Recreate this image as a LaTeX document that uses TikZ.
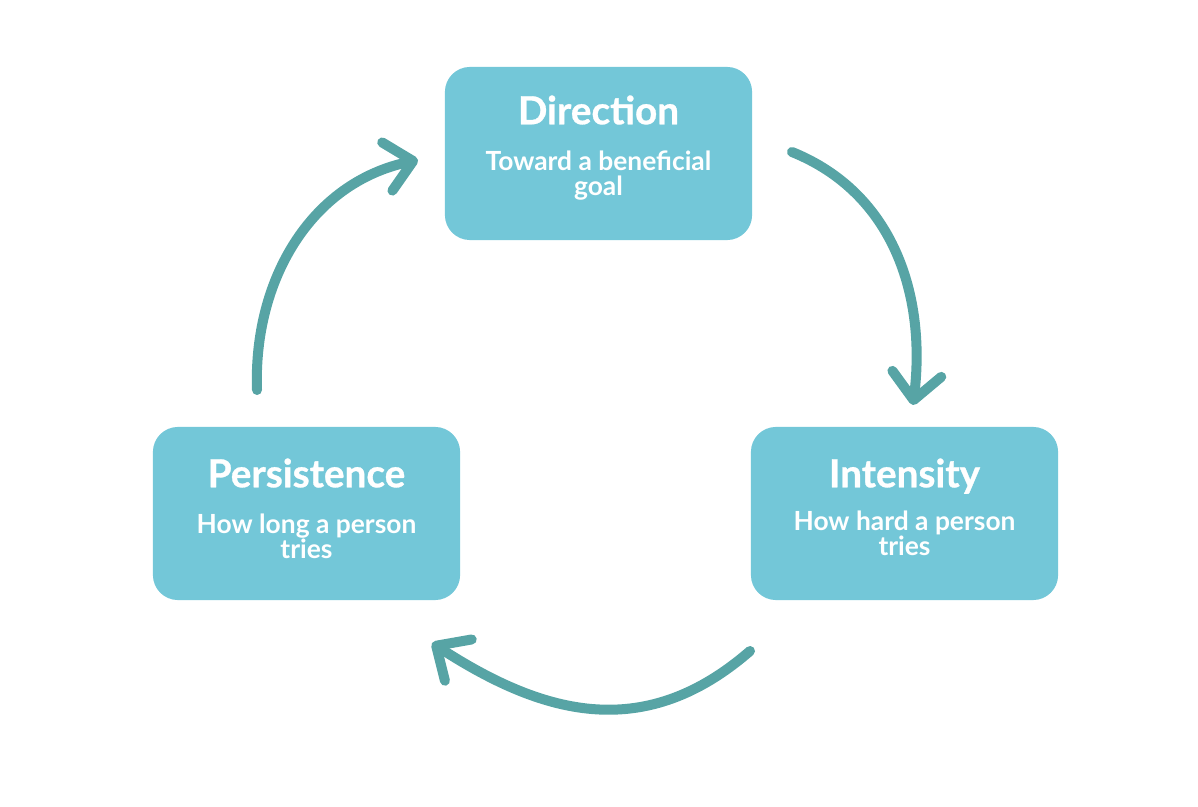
\documentclass[tikz,border=0pt]{standalone}
\usepackage{fontspec}
\setmainfont{Lato}
\newfontfamily\stagefont{Lato}[BoldFeatures={FakeBold=0.8}]
\usetikzlibrary{arrows.meta}
\definecolor{boxblue}{HTML}{73C7D8}
\definecolor{cycleteal}{HTML}{57A4A5}
\begin{document}
\begin{tikzpicture}
[x=0.01cm,y=0.01cm,
 stage/.style={fill=boxblue,rounded corners=0.25cm,minimum width=3.07cm,
   minimum height=1.73cm,inner sep=0pt},
 ttl/.style={anchor=base,text=white,inner sep=0pt,
   font=\fontsize{11}{13}\selectfont\stagefont\bfseries},
 sub/.style={anchor=north,text=white,inner sep=0pt,align=center,
   font=\fontsize{7.5}{7.2}\selectfont\bfseries},
 cyc/.style={draw=cycleteal,line width=0.1cm,line cap=round,
   -{Straight Barb[round,length=7.5pt,width=14pt]}}]
\useasboundingbox (0,0) rectangle (1198,806);

% stages
\node[stage] (dir) at (598.5,652.5) {};
\node[stage] (int) at (904.5,292.5) {};
\node[stage] (per) at (306.5,292.5) {};

\node[ttl] (dirT) at ([yshift=-0.58cm]dir.north) {Direction};
\node[sub] (dirS) at ([yshift=-0.835cm]dir.north) {Toward a beneficial\\goal};
\node[ttl] (intT) at ([yshift=-0.61cm]int.north) {Intensity};
\node[sub] (intS) at ([yshift=-0.84cm]int.north) {How hard a person\\tries};
\node[ttl] (perT) at ([yshift=-0.61cm]per.north) {Persistence};
\node[sub] (perS) at ([yshift=-0.865cm]per.north) {How long a person\\tries};

% cycle arrows
\coordinate (perOut) at (257,416);
\coordinate (dirIn) at (418,646);
\coordinate (dirOut) at (792,654);
\coordinate (intIn) at (913,401);
\coordinate (intOut) at (750,155);
\coordinate (perIn) at (432,163);

\draw[cyc] (perOut) to[out=92,in=192] (dirIn);
\draw[cyc] (dirOut) to[out=-22,in=83] (intIn);
\draw[cyc] (intOut) to[out=221,in=-33,looseness=1.1] (perIn);
\end{tikzpicture}
\end{document}
